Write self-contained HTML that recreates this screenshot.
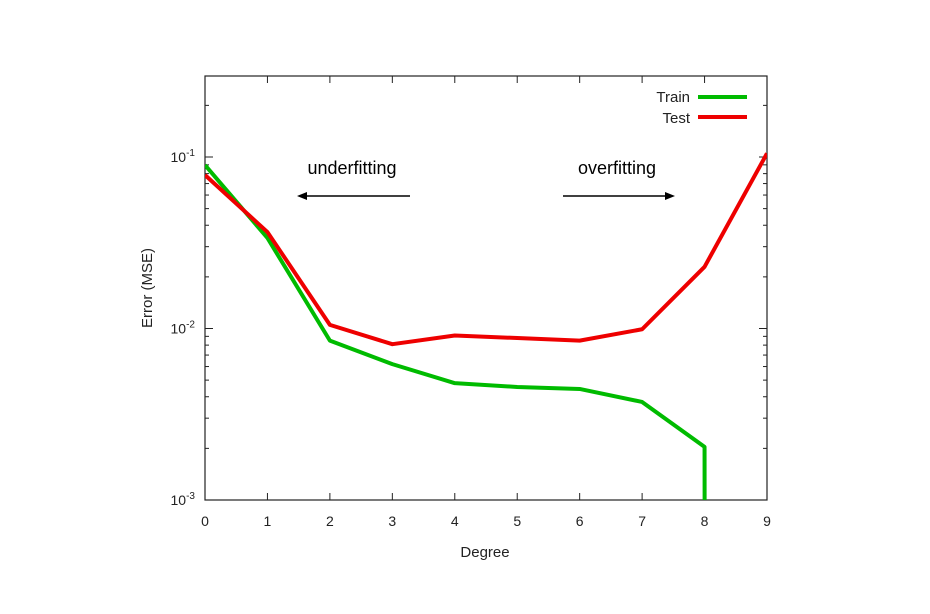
<!DOCTYPE html>
<html><head><meta charset="utf-8"><style>
html,body{margin:0;padding:0;background:#fff;width:930px;height:614px;overflow:hidden;}
svg{display:block;font-family:"Liberation Sans",sans-serif;overflow:hidden;}
</style></head><body>
<svg id="chart" width="930" height="614">
<g id="axes"></g><g id="series"></g>
<text x="485" y="557" font-size="15" text-anchor="middle" fill="#222">Degree</text>
<text transform="translate(152,288) rotate(-90)" font-size="15" text-anchor="middle" fill="#222">Error (MSE)</text>
<text x="352" y="174" font-size="18" text-anchor="middle" fill="#000">underfitting</text>
<text x="617" y="174" font-size="18" text-anchor="middle" fill="#000">overfitting</text>
<g><line x1="410" y1="196" x2="304" y2="196" stroke="#000" stroke-width="1.5"/><polygon points="297,196 307,192 307,200" fill="#000"/></g>
<g><line x1="563" y1="196" x2="668" y2="196" stroke="#000" stroke-width="1.5"/><polygon points="675,196 665,192 665,200" fill="#000"/></g>
<g>
<text x="690" y="102" font-size="15" text-anchor="end" fill="#222">Train</text>
<line x1="698" y1="97" x2="747" y2="97" stroke="#00bb00" stroke-width="4"/>
<text x="690" y="123" font-size="15" text-anchor="end" fill="#222">Test</text>
<line x1="698" y1="117" x2="747" y2="117" stroke="#ee0000" stroke-width="4"/>
</g>
</svg>
<script>
const degrees=[0,1,2,3,4,5,6,7,8,9];
const trainErr=[0.0898,0.0337,0.0085,0.0062,0.0048,0.00456,0.00444,0.00373,0.00204,1e-300];
const testErr=[0.0785,0.0365,0.0105,0.0081,0.0091,0.0088,0.0085,0.0099,0.0229,0.105];
const xTicks=[0,1,2,3,4,5,6,7,8,9];
const yDecades=[-3,-2,-1];
const L=205,R=767,T=76,B=500;
const decadePx=171.5;
const xs=d=>L+(d-0)/9*(R-L);
const ys=v=>B-(Math.log10(v)+3)*decadePx;
const NS='http://www.w3.org/2000/svg';
function mk(tag,attrs,parent){const e=document.createElementNS(NS,tag);for(const k in attrs)e.setAttribute(k,attrs[k]);parent.appendChild(e);return e;}
const axes=document.getElementById('axes'),series=document.getElementById('series');
const defs=mk('defs',{},axes);
const cp=mk('clipPath',{id:'clip'},defs);mk('rect',{x:L,y:T,width:R-L,height:B-T},cp);
const frame=mk('rect',{x:L,y:T,width:R-L,height:B-T,fill:'none',stroke:'#222','stroke-width':1.2},axes);


xTicks.forEach(t=>{
 const x=xs(t);
 mk('line',{x1:x,y1:B,x2:x,y2:B-7,stroke:'#222'},axes);
 mk('line',{x1:x,y1:T,x2:x,y2:T+7,stroke:'#222'},axes);
 const tx=mk('text',{x:x,y:B+26,'font-size':14,'text-anchor':'middle',fill:'#222'},axes);
 tx.textContent=t;
 
 
});
yDecades.forEach(d=>{
 const y=ys(Math.pow(10,d));
 mk('line',{x1:L,y1:y,x2:L+8,y2:y,stroke:'#222'},axes);
 mk('line',{x1:R,y1:y,x2:R-8,y2:y,stroke:'#222'},axes);
 const tx=mk('text',{x:L-10,y:y+5,'font-size':14,'text-anchor':'end',fill:'#222'},axes);
 tx.innerHTML='10<tspan dy="-6" font-size="10">'+d+'</tspan>';
 
 
 for(let m=2;m<=9;m++){const v=m*Math.pow(10,d);const yy=ys(v);if(yy<T)continue;
  mk('line',{x1:L,y1:yy,x2:L+4,y2:yy,stroke:'#222'},axes);
  mk('line',{x1:R,y1:yy,x2:R-4,y2:yy,stroke:'#222'},axes);}
});
function drawLine(vals,color,name){
 const floorLog=-3;
 const pts=[];
 for(let i=0;i<degrees.length;i++){
  const lv=Math.log10(vals[i]);
  if(lv>=floorLog){pts.push(xs(degrees[i])+','+ys(vals[i]));continue;}
  if(i>0){
   const lp=Math.log10(vals[i-1]);
   if(lp>=floorLog){
    const f=(lp-floorLog)/(lp-lv);
    const d=degrees[i-1]+f*(degrees[i]-degrees[i-1]);
    pts.push(xs(d)+','+(B+3));
   }
  }
  break;
 }
 const p=mk('polyline',{points:pts.join(' '),fill:'none',stroke:color,'stroke-width':4,'stroke-linejoin':'round','clip-path':'url(#clip)'},series);
 
 
}
drawLine(trainErr,'#00bb00','train-line');
drawLine(testErr,'#ee0000','test-line');
</script>
</body></html>
